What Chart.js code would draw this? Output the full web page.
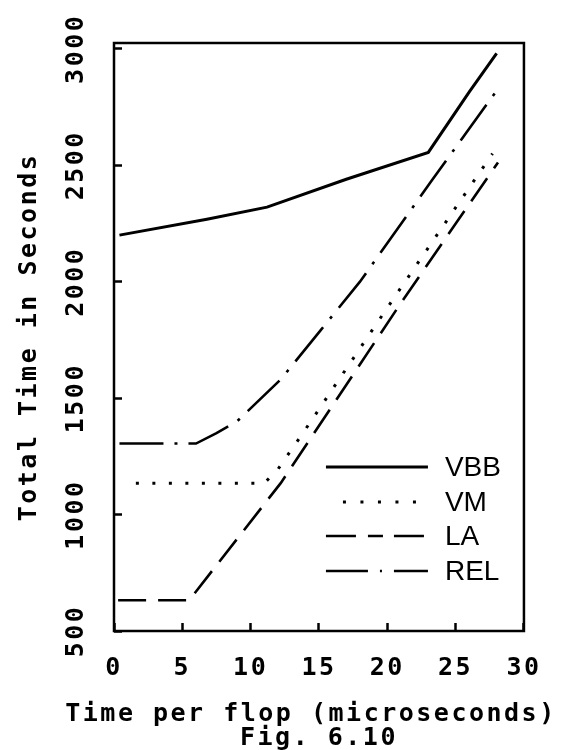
<!DOCTYPE html>
<html>
<head>
<meta charset="utf-8">
<script src="https://cdn.jsdelivr.net/npm/chart.js@4"></script>
<style>
  html, body { margin: 0; padding: 0; background: #fff; }
  canvas { display: block; }
</style>
</head>
<body>
<canvas id="fig610" width="574" height="750"></canvas>
<script>
// Fig. 6.10 - temps total selon le temps par flop
const seriesNames = ["VBB", "VM", "LA", "REL"];

const vbbX = [0.4, 6.8, 11.2, 17, 23, 26, 28];
const vbbY = [2200, 2268, 2320, 2440, 2555, 2815, 2980];

const vmX = [1.6, 11, 12, 13.7, 20.3, 27.7];
const vmY = [1135, 1135, 1195, 1339, 1914, 2550];

const laX = [0.3, 5.5, 12.2, 21, 28.1];
const laY = [632, 632, 1135, 1909, 2512];

const relX = [0.4, 6.0, 7.5, 9.0, 12.2, 15.1, 18, 23.2, 28];
const relY = [1305, 1305, 1350, 1400, 1580, 1790, 2000, 2430, 2820];

const xTickValues = [0, 5, 10, 15, 20, 25, 30];
const yTickValues = [500, 1000, 1500, 2000, 2500, 3000];

const xTitle = "Time per flop (microseconds)";
const figCaption = "Fig. 6.10";
const yTitle = "Total Time in Seconds";

function points(xs, ys) {
    return xs.map((x, i) => ({ x: x, y: ys[i] }));
}

const monoFamily = "'DejaVu Sans Mono', monospace";
const monoFont = { family: monoFamily, size: 25, weight: "bold", lineHeight: 1 };

// espacement des lettres (police du traceur plus large)
const spacingPlugin = {
    id: "spacing",
    beforeUpdate(chart) { chart.ctx.letterSpacing = "2.5px"; },
    beforeLayout(chart) { chart.ctx.letterSpacing = "2.5px"; },
    beforeDraw(chart) { chart.ctx.letterSpacing = "2.5px"; }
};

// cadre autour de la zone du graphique
const framePlugin = {
    id: "frame",
    afterDatasetsDraw(chart) {
        const { ctx, chartArea } = chart;
        ctx.save();
        ctx.strokeStyle = "#000";
        ctx.lineWidth = 2.5;
        ctx.setLineDash([]);
        ctx.strokeRect(chartArea.left, chartArea.top, chartArea.right - chartArea.left, chartArea.bottom - chartArea.top);
        ctx.restore();
    }
};

// titre de l'axe x et légende de la figure (sans maxWidth pour ne pas écraser le texte)
const captionPlugin = {
    id: "caption",
    afterDraw(chart) {
        const { ctx, chartArea } = chart;
        const cx = (chartArea.left + chartArea.right) / 2;
        ctx.save();
        ctx.letterSpacing = "2.5px";
        ctx.font = "bold 25px " + monoFamily;
        ctx.fillStyle = "#000";
        ctx.textAlign = "center";
        ctx.textBaseline = "middle";
        ctx.fillText(xTitle, cx - 8, chartArea.bottom + 83);
        ctx.fillText(figCaption, cx, chartArea.bottom + 107);
        ctx.restore();
    }
};

// légende dans le coin en bas à droite
const legendDash = [[], [3, 14.5], [30, 12, 15, 11], [42, 12, 2, 12]];
const legendStart = [198, 181, 198, 198];
const legendRows = [164, 129, 95, 60];
const legendPlugin = {
    id: "cornerLegend",
    afterDatasetsDraw(chart) {
        const { ctx, chartArea } = chart;
        ctx.save();
        ctx.letterSpacing = "0px";
        ctx.font = "28px 'Liberation Sans', Arial, sans-serif";
        ctx.textBaseline = "middle";
        ctx.fillStyle = "#000";
        ctx.strokeStyle = "#000";
        chart.data.datasets.forEach((ds, i) => {
            const y = chartArea.bottom - legendRows[i];
            ctx.lineWidth = ds.borderWidth;
            ctx.setLineDash(legendDash[i]);
            ctx.beginPath();
            ctx.moveTo(chartArea.right - legendStart[i], y);
            ctx.lineTo(chartArea.right - 96, y);
            ctx.stroke();
            ctx.fillText(ds.label, chartArea.right - 79, y + 1);
        });
        ctx.restore();
    }
};

const ctx = document.getElementById("fig610").getContext("2d");

new Chart(ctx, {
    type: "line",
    data: {
        datasets: [
            { label: seriesNames[0], data: points(vbbX, vbbY), borderColor: "#000", borderWidth: 3 },
            { label: seriesNames[1], data: points(vmX, vmY), borderColor: "#000", borderWidth: 3, borderDash: [3, 13.5] },
            { label: seriesNames[2], data: points(laX, laY), borderColor: "#000", borderWidth: 2.6, borderDash: [28, 12] },
            { label: seriesNames[3], data: points(relX, relY), borderColor: "#000", borderWidth: 2.6, borderDash: [44, 11, 3, 11] }
        ]
    },
    options: {
        responsive: false,
        animation: false,
        events: [],
        layout: { padding: { left: 5, right: 41, top: 43, bottom: 0 } },
        elements: { point: { radius: 0 }, line: { tension: 0, fill: false } },
        plugins: {
            legend: { display: false },
            tooltip: { enabled: false }
        },
        scales: {
            x: {
                type: "linear",
                min: 0,
                max: 30,
                afterBuildTicks: (s) => { s.ticks = xTickValues.map(v => ({ value: v })); },
                afterFit: (s) => { s.height = 119; },
                grid: { drawOnChartArea: false, tickLength: -8, tickWidth: 2.5, color: "#000" },
                border: { display: false },
                ticks: {
                    padding: 32.5,
                    color: "#000",
                    font: monoFont,
                    maxRotation: 0,
                    autoSkip: false,
                    callback: (v) => String(v)
                },
                title: { display: false }
            },
            y: {
                type: "linear",
                min: 500,
                max: 3025,
                afterBuildTicks: (s) => { s.ticks = yTickValues.map(v => ({ value: v })); },
                afterFit: (s) => { s.width = 109; },
                grid: { drawOnChartArea: false, tickLength: -8, tickWidth: 2.5, color: "#000" },
                border: { display: false },
                ticks: {
                    padding: 10,
                    color: "#000",
                    font: monoFont,
                    minRotation: 90,
                    maxRotation: 90,
                    crossAlign: "center",
                    autoSkip: false,
                    callback: (v) => String(v)
                },
                title: {
                    display: true,
                    text: yTitle,
                    color: "#000",
                    font: monoFont,
                    padding: { top: 12, bottom: 0 }
                }
            }
        }
    },
    plugins: [spacingPlugin, framePlugin, captionPlugin, legendPlugin]
});
</script>
</body>
</html>
